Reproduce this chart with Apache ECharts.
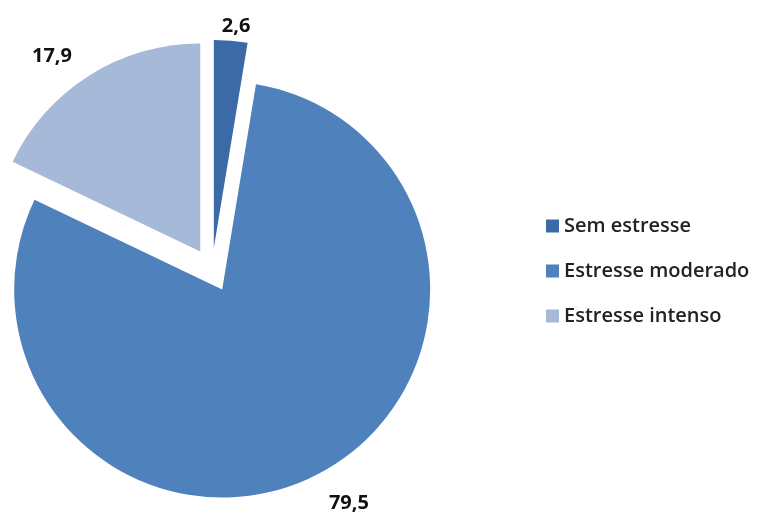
<!DOCTYPE html>
<html><head><meta charset="utf-8">
<script src="https://cdn.jsdelivr.net/npm/echarts@6/dist/echarts.min.js"></script>
<style>html,body{margin:0;padding:0;background:#fff}#c{width:759px;height:513px}</style>
</head><body><div id="c"></div>
<script>
const categories = ['Sem estresse', 'Estresse moderado', 'Estresse intenso'];
const values = [2.6, 79.5, 17.9];
const valueLabels = ['2,6', '79,5', '17,9'];
const colors = ['#3C6AA6', '#4F81BD', '#A7B9D8'];

// label nudges relative to the library's outside-label position
const labelNudge = [[-15, -3], [0, 19], [-6, -9]];

const chart = echarts.init(document.getElementById('c'));
chart.setOption({
  animation: false,
  legend: {
    orient: 'vertical',
    left: 541,
    top: 211,
    itemWidth: 13,
    itemHeight: 13,
    itemGap: 25,
    icon: 'rect',
    textStyle: { fontFamily: 'Open Sans', fontSize: 20, fontWeight: 600, color: '#222' },
    selectedMode: false,
    data: categories
  },
  series: [{
    type: 'pie',
    center: [212, 270],
    radius: 208,
    startAngle: 90,
    clockwise: true,
    selectedMode: 'multiple',
    selectedOffset: 22,
    label: {
      show: true,
      position: 'outside',
      fontFamily: 'Open Sans',
      fontSize: 20,
      fontWeight: 700,
      color: '#111',
      formatter: p => valueLabels[p.dataIndex]
    },
    labelLine: { show: false, length: 12, length2: 0 },
    labelLayout: p => ({ dx: labelNudge[p.dataIndex][0], dy: labelNudge[p.dataIndex][1] }),
    emphasis: { disabled: true },
    data: categories.map((n, i) => ({
      name: n, value: values[i], selected: true,
      itemStyle: { color: colors[i] }
    }))
  }]
});
</script></body></html>
